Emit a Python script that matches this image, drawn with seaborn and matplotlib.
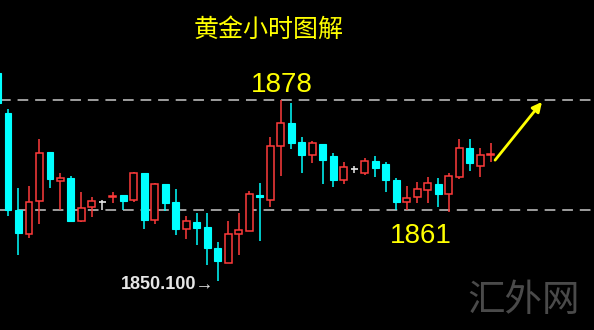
import numpy as np
import pandas as pd
import seaborn as sns
import matplotlib
matplotlib.use("Agg")
import matplotlib.pyplot as plt

# ---- data (hourly gold candles) ----
opens = [1882.17, 1876.00, 1861.00, 1857.29, 1862.39, 1869.96, 1865.48, 1865.95,
         1859.30, 1861.46, 1862.20, 1862.93, 1863.32, 1862.55, 1866.72, 1859.45,
         1865.02, 1862.24, 1858.06, 1859.15, 1858.37, 1855.13, 1852.81, 1857.29,
         1857.75, 1863.32, 1862.55, 1870.89, 1874.45, 1871.51, 1869.50, 1871.20,
         1869.35, 1865.64, 1867.34, 1866.72, 1868.57, 1868.11, 1865.64, 1862.24,
         1863.01, 1864.09, 1865.02, 1863.47, 1866.10, 1870.58, 1867.80, 1869.50]
closes = [1877.54, 1861.00, 1857.45, 1862.24, 1869.81, 1865.79, 1865.95, 1859.30,
          1861.31, 1862.39, 1862.20, 1863.16, 1862.39, 1866.72, 1859.45, 1865.02,
          1862.08, 1858.06, 1859.30, 1858.22, 1855.13, 1853.12, 1857.29, 1857.91,
          1863.47, 1863.01, 1870.89, 1874.45, 1871.35, 1869.50, 1871.35, 1868.73,
          1865.64, 1867.65, 1867.34, 1868.57, 1867.49, 1865.64, 1862.24, 1862.85,
          1864.25, 1865.17, 1863.47, 1866.25, 1870.58, 1868.26, 1869.50, 1869.65]
highs = [1882.64, 1876.61, 1864.40, 1864.71, 1871.97, 1869.96, 1866.72, 1866.25,
         1863.78, 1863.01, 1862.55, 1863.78, 1863.32, 1866.87, 1866.72, 1865.17,
         1865.02, 1864.25, 1860.07, 1860.54, 1860.54, 1856.05, 1859.30, 1860.54,
         1863.94, 1865.17, 1872.28, 1878.00, 1877.54, 1872.28, 1871.66, 1871.20,
         1869.81, 1868.42, 1867.80, 1869.04, 1869.35, 1868.42, 1865.95, 1864.71,
         1865.33, 1866.10, 1865.95, 1866.72, 1871.97, 1871.97, 1870.58, 1871.35]
lows = [1877.07, 1860.07, 1854.05, 1856.67, 1858.84, 1864.40, 1861.00, 1859.30,
        1859.15, 1859.92, 1861.00, 1862.08, 1861.00, 1862.24, 1858.06, 1858.84,
        1860.85, 1857.14, 1856.52, 1855.59, 1852.50, 1850.10, 1852.81, 1854.05,
        1857.75, 1856.21, 1861.46, 1866.25, 1870.43, 1866.72, 1868.26, 1865.02,
        1864.55, 1865.02, 1866.72, 1866.41, 1866.10, 1863.78, 1861.00, 1861.00,
        1862.08, 1862.08, 1861.46, 1860.69, 1865.79, 1867.03, 1866.10, 1868.42]
levels = [1878, 1861]
level_labels = ["1878", "1861"]
low_label = "1850.100→"
title = "黄金小时图解"
watermark = "汇外网"

df = pd.DataFrame({"open": opens, "high": highs, "low": lows, "close": closes})
df["idx"] = np.arange(len(df))

sns.set_theme(style="dark", rc={"axes.facecolor": "black", "figure.facecolor": "black"})
plt.rcParams['font.family'] = ['Noto Sans CJK SC', 'DejaVu Sans']

RED = "#FF3B3B"
CYAN = "#00FFFF"
WHITE = "#E8E8E8"

fig = plt.figure(figsize=(5.94, 3.30), dpi=100)
ax = fig.add_axes([0, 0, 1, 1])
ax.set_facecolor("black")

w = 0.66
for _, r in df.iterrows():
    o, h, l, c, i = r["open"], r["high"], r["low"], r["close"], r["idx"]
    if abs(c - o) < 1e-6:
        col = WHITE
    elif c > o:
        col = RED
    else:
        col = CYAN
    ax.vlines(i, l, h, color=col, linewidth=1.1, zorder=2)
    bottom = min(o, c)
    height = max(abs(c - o), 0.12)
    if col == CYAN:
        ax.bar(i, height, bottom=bottom, width=w, color=CYAN, edgecolor=CYAN,
               linewidth=0.8, zorder=3)
    elif col == RED:
        ax.bar(i, height, bottom=bottom, width=w, color="black", edgecolor=RED,
               linewidth=1.1, zorder=3)
    else:
        ax.hlines(o, i - w / 2, i + w / 2, color=WHITE, linewidth=1.2, zorder=3)

for lv in levels:
    ax.axhline(lv, color="#C8C8C8", linewidth=1.1, linestyle=(0, (7, 4.5)), zorder=1)

ax.set_xlim(0.237, 56.86)
ax.set_ylim(1842.45, 1893.45)
ax.set_xticks([])
ax.set_yticks([])
for s in ax.spines.values():
    s.set_visible(False)
ax.grid(False)

num_font = ['Liberation Sans', 'DejaVu Sans']
ax.text(27.1, 1880.3, level_labels[0], color="#FFFF00", fontsize=20,
        family=num_font, ha="center", va="center", zorder=5)
ax.text(40.35, 1857.0, level_labels[1], color="#FFFF00", fontsize=20,
        family=num_font, ha="center", va="center", zorder=5)
ax.text(20.65, 1849.5, low_label, color="#E6E6E6", fontsize=13, fontweight="bold",
        family=['Liberation Sans', 'DejaVu Sans'], ha="right", va="center", zorder=5)

ax.annotate("", xy=(51.9, 1877.7), xytext=(47.43, 1868.7),
            arrowprops=dict(arrowstyle="-|>", color="#FFFF00", lw=2,
                            mutation_scale=14, shrinkA=0, shrinkB=0), zorder=6)

fig.text(268.5 / 594, 1 - 30 / 330, title, color="#FFFF00", fontsize=18,
         ha="center", va="center", family=['Noto Sans CJK SC', 'DejaVu Sans'])
fig.text(524 / 594, 1 - 300 / 330, watermark, color="#4A4A4A", fontsize=27,
         ha="center", va="center", family=['Noto Sans CJK SC', 'DejaVu Sans'])

fig.savefig("out.png", dpi=100, facecolor="black")
